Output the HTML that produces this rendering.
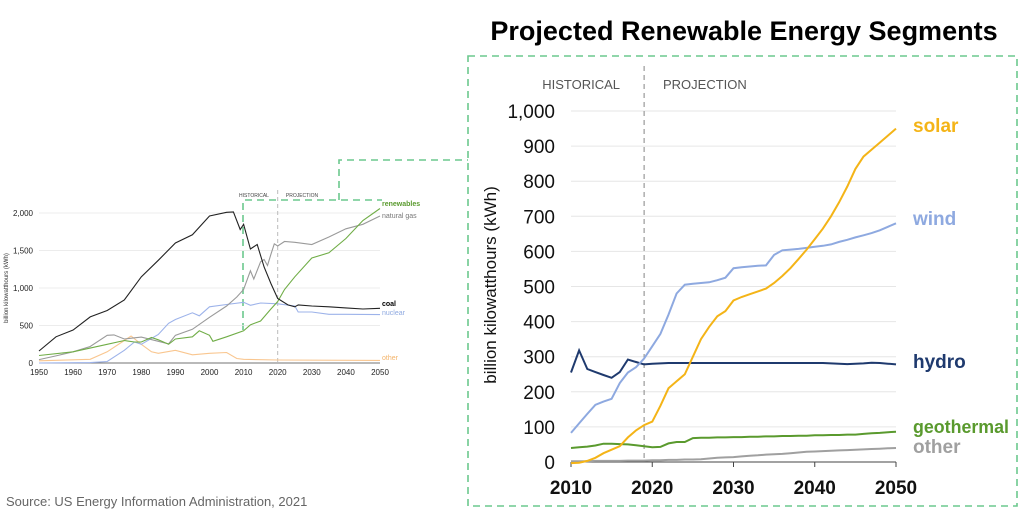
<!DOCTYPE html>
<html><head><meta charset="utf-8"><style>
body{margin:0;width:1024px;height:520px;background:#fff;overflow:hidden;font-family:"Liberation Sans",sans-serif}
svg{display:block}
</style></head><body>
<svg width="1024" height="520" xmlns="http://www.w3.org/2000/svg">
<text x="744" y="40" text-anchor="middle" font-size="27" font-weight="bold" fill="#000">Projected Renewable Energy Segments</text>
<text x="6" y="506" font-size="13" fill="#666">Source: US Energy Information Administration, 2021</text>
<g fill="none" stroke="#6cc88e" stroke-width="1.6" stroke-dasharray="7,5">
<rect x="468" y="56" width="549" height="450"/>
<polyline points="243,330 243,200 382,200"/>
<polyline points="339,200 339,160 468,160"/>
</g>
<g id="small"></g>
<g id="big"></g>
</svg>
<script>
// ---- small overview chart data ----
const sYearsCoal=[1950,1955,1960,1965,1970,1975,1980,1985,1990,1995,2000,2005,2007,2009,2010,2012,2014,2016,2018,2020,2023,2025,2026,2030,2035,2040,2045,2050];
const sCoal=[160,350,440,615,700,840,1150,1370,1600,1710,1960,2010,2015,1780,1850,1520,1580,1280,1060,860,775,750,775,760,750,735,720,730];
const sYearsGas=[1950,1955,1960,1965,1970,1972,1975,1980,1985,1988,1990,1995,2000,2005,2008,2010,2012,2013,2015,2016,2017,2018,2019,2020,2022,2025,2030,2035,2040,2045,2050];
const sGas=[45,95,150,220,370,375,320,345,290,255,370,450,610,760,880,980,1230,1120,1350,1380,1300,1450,1590,1560,1620,1610,1580,1680,1790,1850,1960];
const sYearsRen=[1950,1960,1970,1975,1978,1980,1983,1985,1988,1990,1995,1997,2000,2001,2005,2010,2012,2015,2018,2020,2022,2025,2030,2035,2040,2045,2050];
const sRen=[100,150,250,300,280,280,340,310,250,320,350,430,370,290,350,430,510,560,720,820,980,1150,1400,1470,1660,1900,2060];
const sYearsNuc=[1950,1965,1970,1975,1978,1980,1985,1988,1990,1995,1997,2000,2005,2010,2012,2015,2020,2025,2026,2030,2035,2040,2050];
const sNuc=[0,5,20,170,280,250,380,530,580,670,630,750,780,810,770,800,790,760,680,680,650,650,645];
const sYearsOth=[1950,1965,1970,1975,1977,1980,1983,1985,1990,1995,2000,2005,2008,2010,2020,2050];
const sOth=[30,50,150,300,360,250,150,130,170,110,130,140,60,50,40,35];
const sYTicks=[0,500,1000,1500,2000];
const sYTickLabels=["0","500","1,000","1,500","2,000"];
const sXTicks=[1950,1960,1970,1980,1990,2000,2010,2020,2030,2040,2050];
// ---- big chart data ----
const bYears=[];for(let y=2010;y<=2050;y++)bYears.push(y);
const solar=[-3,-2,3,12,25,35,45,70,90,105,115,160,210,230,250,300,350,385,415,430,460,470,478,486,494,510,530,552,578,605,635,665,700,740,785,835,870,890,910,930,950];
const wind=[83,110,137,163,172,180,225,255,270,295,330,365,420,480,505,508,510,512,518,525,552,555,557,559,560,590,603,605,607,610,613,616,620,627,633,640,646,652,660,670,680];
const hydro=[255,318,265,256,248,240,256,292,285,278,280,281,282,282,282,282,282,282,282,282,282,282,282,282,282,282,282,282,282,282,282,282,281,280,279,280,281,283,282,280,278];
const geo=[40,42,44,47,52,52,51,50,48,45,42,43,53,57,57,68,69,69,70,70,71,71,72,72,73,73,74,74,75,75,76,76,77,77,78,78,80,82,83,85,86];
const other=[2,2,2,3,3,3,3,4,4,4,5,5,6,6,7,7,8,10,12,13,14,16,18,19,21,22,23,25,27,29,30,31,32,33,34,35,36,37,38,39,40];
const bYTicks=[0,100,200,300,400,500,600,700,800,900,1000];
const bYTickLabels=["0","100","200","300","400","500","600","700","800","900","1,000"];
const bXTicks=[2010,2020,2030,2040,2050];

const NS="http://www.w3.org/2000/svg";
function mk(tag,attrs,parent,txt){const e=document.createElementNS(NS,tag);for(const k in attrs)e.setAttribute(k,attrs[k]);if(txt!==undefined)e.textContent=txt;parent.appendChild(e);return e;}
function pathD(xs,ys,fx,fy){return xs.map((x,i)=>(i?"L":"M")+fx(x).toFixed(1)+","+fy(ys[i]).toFixed(1)).join("");}

// small chart
const sg=document.getElementById('small');
const sx=y=>39+(y-1950)*(380-39)/100;
const sy=v=>363-v*0.075;
sYTicks.forEach((t,i)=>{
  if(t>0){const l=mk('line',{x1:39,x2:380,y1:sy(t),y2:sy(t),stroke:'#e6e6e6','stroke-width':0.8},sg);
  }
  const tx=mk('text',{x:33,y:sy(t)+3,'text-anchor':'end','font-size':8,fill:'#222'},sg,sYTickLabels[i]);
  
});
const sax=mk('line',{x1:39,x2:380,y1:363,y2:363,stroke:'#444','stroke-width':0.8},sg);

sXTicks.forEach(t=>{const tx=mk('text',{x:sx(t),y:375,'text-anchor':'middle','font-size':8,fill:'#222'},sg,t);
});
const syt=mk('text',{transform:'translate(8,288) rotate(-90)','text-anchor':'middle','font-size':6,fill:'#333'},sg,'billion kilowatthours (kWh)');

const sdv=mk('line',{x1:sx(2020),x2:sx(2020),y1:190,y2:363,stroke:'#bbb','stroke-dasharray':'4,3','stroke-width':1},sg);

const sh=mk('text',{x:254,y:197,'text-anchor':'middle','font-size':5,fill:'#444'},sg,'HISTORICAL');

const sp=mk('text',{x:302,y:197,'text-anchor':'middle','font-size':5,fill:'#444'},sg,'PROJECTION');

[[sYearsOth,sOth,'#f9c68f','other'],[sYearsNuc,sNuc,'#9db3ea','nuclear'],[sYearsGas,sGas,'#9a9a9a','natural-gas'],[sYearsRen,sRen,'#70ad47','renewables'],[sYearsCoal,sCoal,'#222','coal']].forEach(s=>{
  const p=mk('path',{d:pathD(s[0],s[1],sx,sy),fill:'none',stroke:s[2],'stroke-width':1.1},sg);
  
});
[['renewables',206,'#5a9a2e','bold'],['natural gas',218,'#777','normal'],['coal',306,'#000','bold'],['nuclear',315,'#8ea9e0','normal'],['other',360,'#f4b46a','normal']].forEach(l=>{
  const t=mk('text',{x:382,y:l[1],'font-size':7,fill:l[2],'font-weight':l[3]},sg,l[0]);
  
});

// big chart
const bg=document.getElementById('big');
const bx=y=>571+(y-2010)*(896-571)/40;
const by=v=>462-v*0.351;
bYTicks.forEach((t,i)=>{
  if(t>0){const l=mk('line',{x1:571,x2:896,y1:by(t),y2:by(t),stroke:'#e6e6e6','stroke-width':1},bg);
  }
  const tx=mk('text',{x:555,y:by(t)+7,'text-anchor':'end','font-size':19,fill:'#111'},bg,bYTickLabels[i]);
  
});
const bax=mk('line',{x1:571,x2:896,y1:462,y2:462,stroke:'#444','stroke-width':1},bg);

bXTicks.forEach(t=>{
  const tk=mk('line',{x1:bx(t),x2:bx(t),y1:462,y2:467,stroke:'#444'},bg);
  
  const tx=mk('text',{x:bx(t),y:494,'text-anchor':'middle','font-size':19,'font-weight':'bold',fill:'#111'},bg,t);
  
});
const byt=mk('text',{transform:'translate(496,285) rotate(-90)','text-anchor':'middle','font-size':17,fill:'#111'},bg,'billion kilowatthours (kWh)');

const bdv=mk('line',{x1:bx(2019),x2:bx(2019),y1:66,y2:462,stroke:'#999','stroke-dasharray':'5,4','stroke-width':1.2},bg);

const bh=mk('text',{x:620,y:89,'text-anchor':'end','font-size':13,fill:'#555'},bg,'HISTORICAL');

const bp=mk('text',{x:663,y:89,'font-size':13,fill:'#555'},bg,'PROJECTION');

[[other,'#a0a0a0','other'],[geo,'#5a9a2e','geothermal'],[hydro,'#1f3a6e','hydro'],[wind,'#8ea9e0','wind'],[solar,'#f4b417','solar']].forEach(s=>{
  const p=mk('path',{d:pathD(bYears,s[0],bx,by),fill:'none',stroke:s[1],'stroke-width':2},bg);
  
});
[['solar',132,'#f4b417',19],['wind',225,'#8ea9e0',19],['hydro',368,'#1f3a6e',19],['geothermal',433,'#5a9a2e',18],['other',453,'#a0a0a0',19]].forEach(l=>{
  const attrs={x:913,y:l[1],'font-size':l[3],'font-weight':'bold',fill:l[2]};
  if(l[0]==='geothermal'){attrs.textLength=96;attrs.lengthAdjust='spacingAndGlyphs';}
  const t=mk('text',attrs,bg,l[0]);
  
});
</script>
</body></html>
